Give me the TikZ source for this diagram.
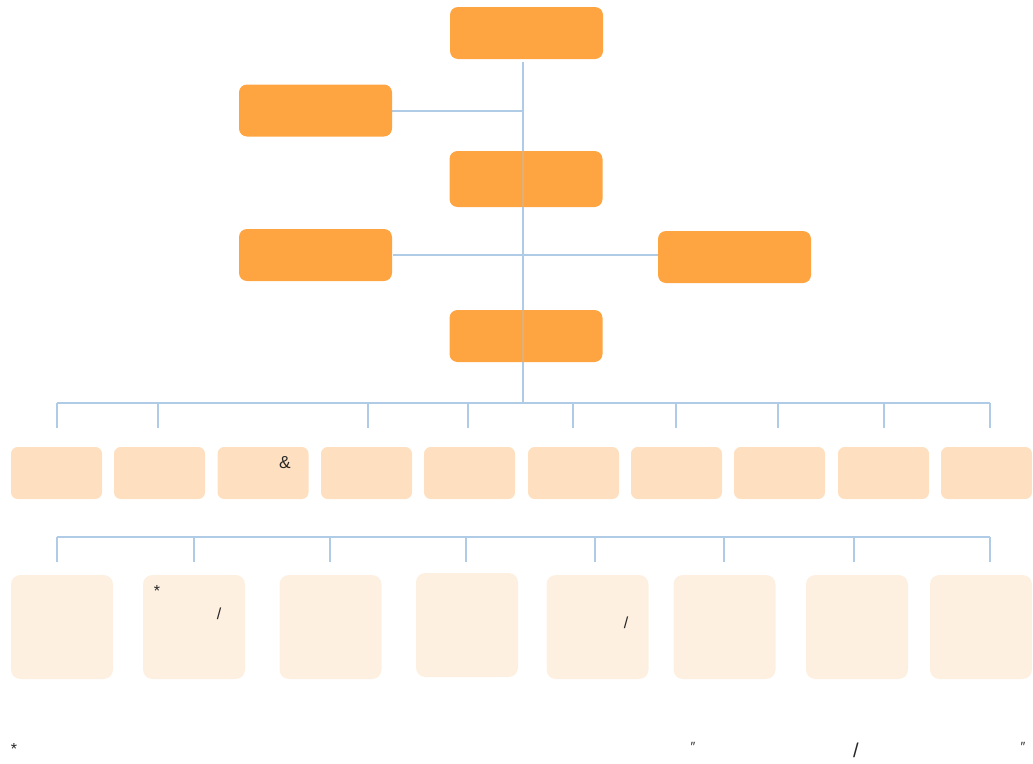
\documentclass[tikz,border=0pt]{standalone}
\usepackage{fontspec}
\setmainfont{Liberation Sans}
\usepackage{tikz}
\usetikzlibrary{positioning,calc}
\definecolor{deeporange}{RGB}{254,161,58}
\definecolor{peach}{RGB}{254,224,192}
\definecolor{cream}{RGB}{254,240,225}
\definecolor{linkblue}{RGB}{176,203,230}
\tikzset{
  basebox/.style={rectangle,draw=none,inner sep=0pt,align=center},
  headbox/.style={basebox,fill=deeporange,fill opacity=0.96,rounded corners=6pt,minimum width=114.75pt,minimum height=39pt},
  midbox/.style={basebox,fill=peach,rounded corners=5pt,minimum width=68.25pt,minimum height=39pt},
  lowbox/.style={basebox,fill=cream,rounded corners=7pt,minimum width=76.5pt,minimum height=78pt},
  strayglyph/.style={inner sep=0pt,text=black!85,font=\fontsize{12}{14}\selectfont},
  link/.style={draw=linkblue,line width=1pt}
}

\begin{document}
\begin{tikzpicture}[x=0.75pt,y=-0.75pt]
  \useasboundingbox (0,0) rectangle (1033,764);

  % bus coordinates
  \coordinate (bus1) at (523,403);
  \coordinate (bus2) at (523,537);

  % connectors first, boxes on top
  \draw[link] (523,62) -- (bus1);
  \draw[link] (392,111) -- (523,111);
  \draw[link] (393,255) -- (658,255);
  \draw[link] (57,403) -- (990,403);
  \foreach \x in {57,158,368,468,573,676,778,884,990}
    \draw[link] (\x,403) -- (\x,428);
  \draw[link] (57,537) -- (990,537);
  \foreach \x in {57,194,330,466,595,724,854,990}
    \draw[link] (\x,537) -- (\x,562);

  % upper chain
  \node[headbox] (top)   at (526.5,33)  {};
  \node[headbox] (left1) at (315.5,110.5) {};
  \node[headbox,minimum height=42pt] (mid) at (526,179) {};
  \node[headbox] (left2) at (315.5,255) {};
  \node[headbox] (right) at (734.5,257) {};
  \node[headbox] (low)   at (526,336)   {};
  \draw[link,opacity=0.35] (mid.north -| bus1) -- (mid.south -| bus1);
  \draw[link,opacity=0.35] (low.north -| bus1) -- (low.south -| bus1);

  % second row
  \foreach \i/\x in {1/56.5,2/159.5,3/263,4/366.5,5/469.5,6/573.5,7/676.5,8/779.5,9/883.5,10/986.5}
    \node[midbox] (mrow\i) at (\x,473) {};

  % third row
  \foreach \i/\x/\y in {1/62/627,2/194/627,3/330.5/627,4/467/625,5/597.5/627,6/724.5/627,7/857/627,8/981/627}
    \node[lowbox] (lrow\i) at (\x,\y) {};

  % stray glyphs
  \node[strayglyph,font=\fontsize{13}{15}\selectfont] (amp) at (285,463) {\&};
  \node[strayglyph] (ast1) at (157,591) {*};
  \node[strayglyph] (sl1) at (219,614) {/};
  \node[strayglyph] (sl2) at (626,623) {/};
  \node[strayglyph] (ast2) at (14,749) {*};
  \node[strayglyph,font=\fontsize{10}{12}\selectfont] (dit1) at (693,747) {″};
  \node[strayglyph,font=\fontsize{15}{16}\selectfont] (sl3) at (856,750) {/};
  \node[strayglyph,font=\fontsize{10}{12}\selectfont] (dit2) at (1023,747) {″};
\end{tikzpicture}
\end{document}
